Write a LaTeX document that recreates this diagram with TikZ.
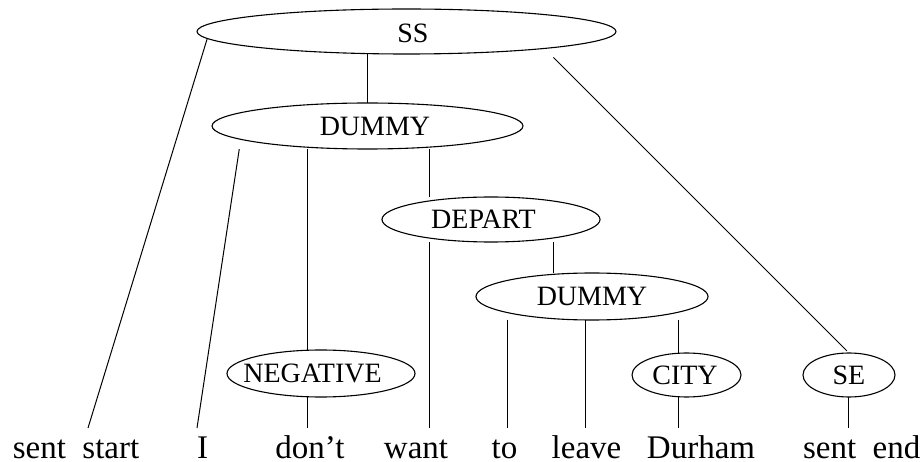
\documentclass[tikz,border=0pt]{standalone}
\usepackage{fontspec}
\setmainfont{Liberation Serif}
\usetikzlibrary{shapes.geometric}
\begin{document}
\begin{tikzpicture}[x=1pt,y=-1pt,
  tag/.style={ellipse, draw, line width=1.1pt, inner sep=0pt, outer sep=0pt},
  tagtext/.style={font=\fontsize{28pt}{34pt}\selectfont, inner sep=0pt},
  word/.style={font=\fontsize{33pt}{40pt}\selectfont, anchor=base, inner sep=0pt},
  edge/.style={line width=1pt}]
\useasboundingbox (0,0) rectangle (922,462);

% semantic category nodes
\node[tag, minimum width=419pt, minimum height=45pt,
  label={[tagtext, xshift=6.5pt, yshift=-2pt]center:SS}] (ss) at (406.5,31.5) {};
\node[tag, minimum width=311pt, minimum height=46pt,
  label={[tagtext, xshift=7.5pt]center:DUMMY}] (dA) at (367.5,126) {};
\node[tag, minimum width=218pt, minimum height=45pt,
  label={[tagtext, xshift=-7.5pt]center:DEPART}] (dep) at (491,219.5) {};
\node[tag, minimum width=232pt, minimum height=47pt,
  label={[tagtext]center:DUMMY}] (dB) at (592,296.5) {};
\node[tag, minimum width=188pt, minimum height=47pt,
  label={[tagtext, xshift=-8.5pt]center:NEGATIVE}] (neg) at (321,373.5) {};
\node[tag, minimum width=109pt, minimum height=44pt,
  label={[tagtext, xshift=-1.5pt]center:CITY}] (city) at (686.5,375) {};
\node[tag, minimum width=92pt, minimum height=44pt,
  label={[tagtext]center:SE}] (se) at (849,375) {};

% the sentence
\node[word] (wStart) at (76,459) {sent\hspace{0.5em}start};
\node[word] (wI) at (202.5,459) {I};
\node[word] (wDont) at (310,459) {don’t};
\node[word] (wWant) at (416,459) {want};
\node[word] (wTo) at (504.5,459) {to};
\node[word] (wLeave) at (586.5,459) {leave};
\node[word] (wDurham) at (701,459) {Durham};
\node[word] (wEnd) at (861.7,459) {sent\hspace{0.5em}end};

% line ends just above the words
\coordinate (fStart) at (88,428);
\coordinate (fI) at (197,428);
\coordinate (fDont) at (307,428);
\coordinate (fWant) at (429,428);
\coordinate (fTo) at (507,428);
\coordinate (fLeave) at (585,428);
\coordinate (fDurham) at (678,428);
\coordinate (fEnd) at (848,428);

% tree branches
\draw[edge] (ss.182.5) -- (fStart);
\draw[edge] (ss.south -| dA.north) -- (dA.north);
\draw[edge, shorten <=12.8pt, shorten >=3pt] (ss.-7.08) -- (se.north);
\draw[edge, shorten <=10pt] (dA.186.55) -- (fI);
\draw[edge] (dA.south -| fDont) -- (neg.north -| fDont);
\draw[edge] (dA.south -| fWant) -- (dep.north -| fWant);
\draw[edge] (dep.south -| fWant) -- (fWant);
\draw[edge] ([xshift=62pt]dep.south) -- ([xshift=62pt]dep.south |- dB.north);
\draw[edge] (dB.south -| fTo) -- (fTo);
\draw[edge] (dB.south -| fLeave) -- (fLeave);
\draw[edge] (dB.south -| fDurham) -- (city.north -| fDurham);
\draw[edge] (neg.south -| fDont) -- (fDont);
\draw[edge] (city.south -| fDurham) -- (fDurham);
\draw[edge] (se.south -| fEnd) -- (fEnd);
\end{tikzpicture}
\end{document}
